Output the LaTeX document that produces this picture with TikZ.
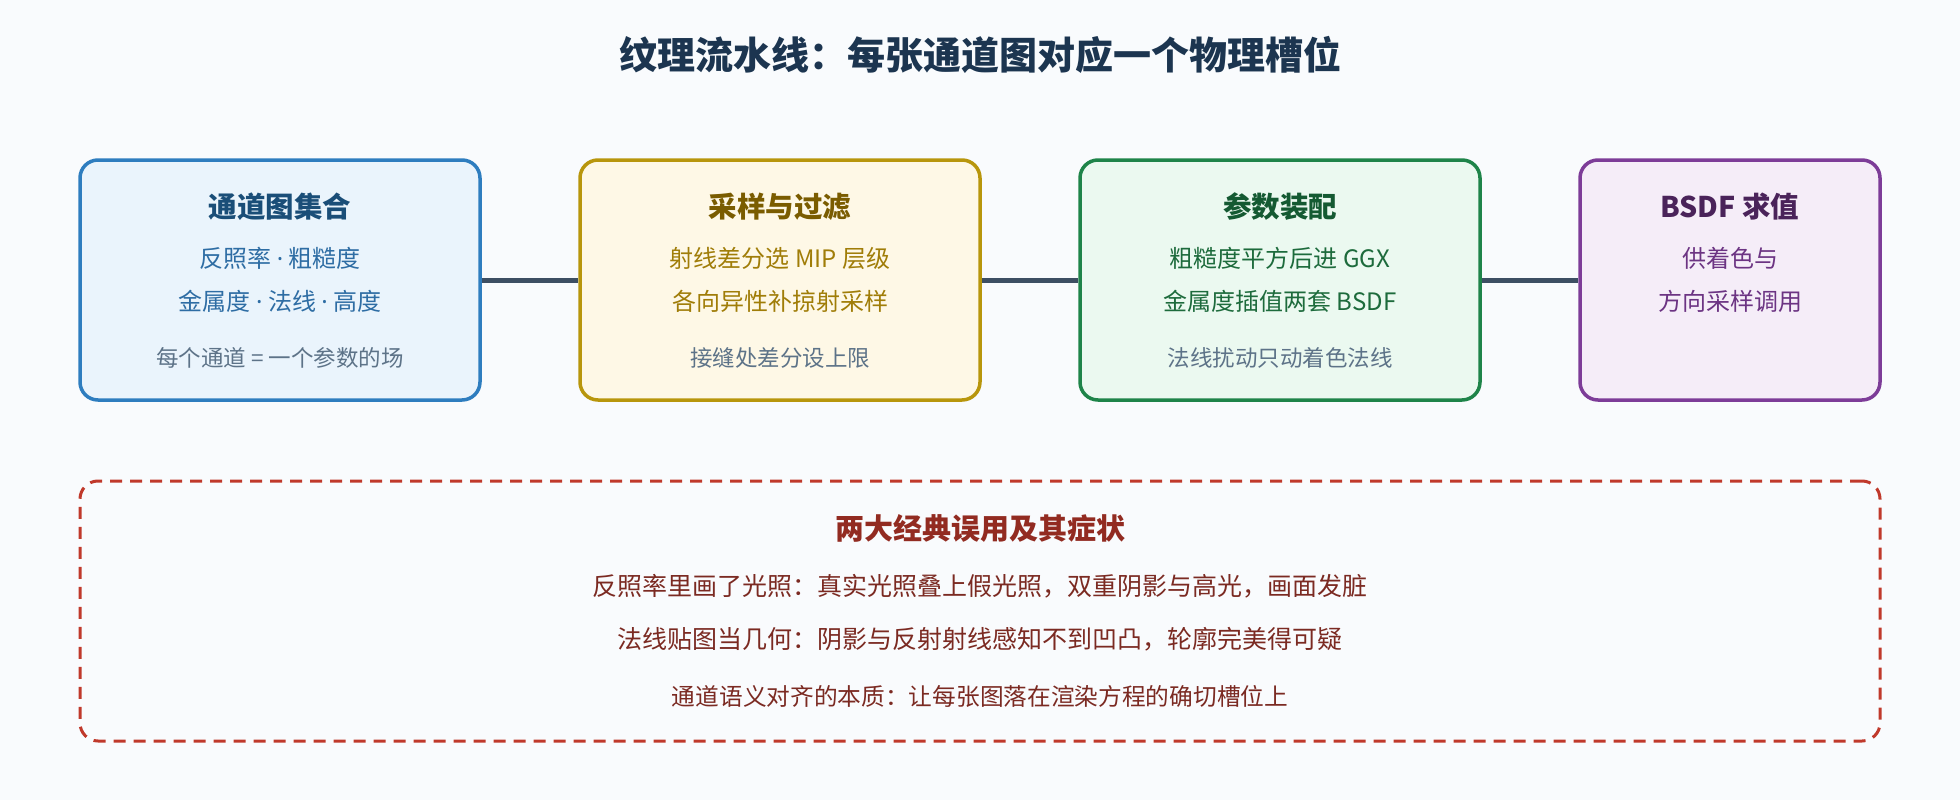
\documentclass[tikz,border=0pt]{standalone}
\usepackage{fontspec}
\setmainfont{Noto Sans CJK SC}
\newfontfamily\latinf{Noto Sans}
\newcommand{\mdot}{{\latinf ·}}
\definecolor{bgc}{HTML}{F9FBFD}
\definecolor{titlec}{HTML}{1C3550}
\definecolor{linkc}{HTML}{3D4F63}
\definecolor{notec}{HTML}{5D7388}
\definecolor{s1}{HTML}{2E7DBF}\definecolor{f1}{HTML}{EAF4FC}\definecolor{t1}{HTML}{1A4E78}\definecolor{b1c}{HTML}{2E6DA4}
\definecolor{s2}{HTML}{B8960C}\definecolor{f2}{HTML}{FEF8E6}\definecolor{t2}{HTML}{7A5C00}\definecolor{b2c}{HTML}{A07D08}
\definecolor{s3}{HTML}{1E8449}\definecolor{f3}{HTML}{EBF9F0}\definecolor{t3}{HTML}{145A32}\definecolor{b3c}{HTML}{1D6B3C}
\definecolor{s4}{HTML}{7D3C98}\definecolor{f4}{HTML}{F5EDF8}\definecolor{t4}{HTML}{4A235A}\definecolor{b4c}{HTML}{6C3483}
\definecolor{s5}{HTML}{C0392B}\definecolor{t5}{HTML}{922B21}\definecolor{b5c}{HTML}{7B2A22}
\begin{document}
\begin{tikzpicture}[x=1pt,y=-1pt,
  stage/.style={draw, line width=3.5pt, rounded corners=18pt, minimum height=240pt, inner sep=0pt},
  wide/.style={minimum width=400pt},
  narrow/.style={minimum width=300pt},
  btitle/.style={font=\fontsize{28.5}{31}\selectfont\bfseries, inner sep=0pt},
  bbody/.style={font=\fontsize{24}{27}\selectfont, inner sep=0pt},
  bnote/.style={font=\fontsize{22.5}{25}\selectfont, inner sep=0pt, text=notec},
  link/.style={draw=linkc, line width=5pt},
  warn/.style={draw=s5, line width=3pt, dash pattern=on 12pt off 8pt, rounded corners=18pt, minimum width=1800pt, minimum height=260pt, inner sep=0pt},
  wtitle/.style={font=\fontsize{29}{32}\selectfont\bfseries, inner sep=0pt, text=t5},
  wbody/.style={font=\fontsize{25}{28}\selectfont, inner sep=0pt, text=b5c}
]
\fill[bgc] (0,0) rectangle (1960,800);
\useasboundingbox (0,0) rectangle (1960,800);

\node[font=\fontsize{38}{42}\selectfont\bfseries, text=titlec, inner sep=0pt] (title) at (980,55) {纹理流水线：每张通道图对应一个物理槽位};

\node[stage, wide, draw=s1, fill=f1] (b1) at (280,280) {};
\node[stage, wide, draw=s2, fill=f2] (b2) at (780,280) {};
\node[stage, wide, draw=s3, fill=f3] (b3) at (1280,280) {};
\node[stage, narrow, draw=s4, fill=f4] (b4) at (1730,280) {};

\draw[link] (b1.east) -- (b2.west);
\draw[link] (b2.east) -- (b3.west);
\draw[link] (b3.east) -- (b4.west);

\node[btitle, text=t1] (b1t) at (280,207) {通道图集合};
\node[bbody, text=b1c] (b1a) at (280,258) {反照率 \mdot{} 粗糙度};
\node[bbody, text=b1c] (b1b) at (280,301) {金属度 \mdot{} 法线 \mdot{} 高度};
\node[bnote] (b1n) at (280,358) {每个通道 = 一个参数的场};

\node[btitle, text=t2] (b2t) at (780,207) {采样与过滤};
\node[bbody, text=b2c] (b2a) at (780,258) {射线差分选 MIP 层级};
\node[bbody, text=b2c] (b2b) at (780,301) {各向异性补掠射采样};
\node[bnote] (b2n) at (780,358) {接缝处差分设上限};

\node[btitle, text=t3] (b3t) at (1280,207) {参数装配};
\node[bbody, text=b3c] (b3a) at (1280,258) {粗糙度平方后进 GGX};
\node[bbody, text=b3c] (b3b) at (1280,301) {金属度插值两套 BSDF};
\node[bnote] (b3n) at (1280,358) {法线扰动只动着色法线};

\node[btitle, text=t4] (b4t) at (1730,207) {BSDF 求值};
\node[bbody, text=b4c] (b4a) at (1730,258) {供着色与};
\node[bbody, text=b4c] (b4b) at (1730,301) {方向采样调用};

\node[warn] (w) at (980,611) {};
\node[wtitle] (wt) at (980,528) {两大经典误用及其症状};
\node[wbody] (w1) at (980,586) {反照率里画了光照：真实光照叠上假光照，双重阴影与高光，画面发脏};
\node[wbody] (w2) at (980,639) {法线贴图当几何：阴影与反射射线感知不到凹凸，轮廓完美得可疑};
\node[wbody, font=\fontsize{23.7}{26}\selectfont] (w3) at (980,696) {通道语义对齐的本质：让每张图落在渲染方程的确切槽位上};
\end{tikzpicture}
\end{document}
